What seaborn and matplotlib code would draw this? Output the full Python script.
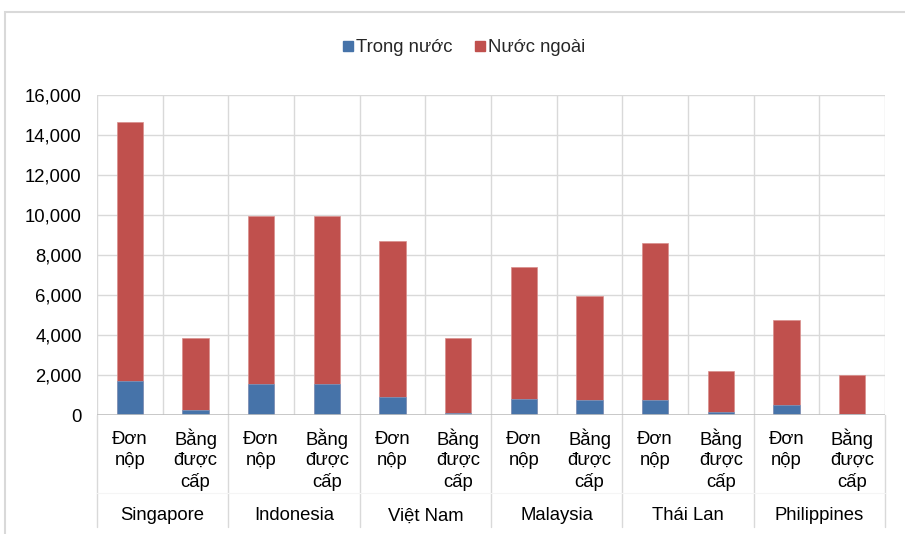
import matplotlib
matplotlib.use("Agg")
import matplotlib.pyplot as plt
from matplotlib.patches import Rectangle
from matplotlib.lines import Line2D
from matplotlib.ticker import FuncFormatter
import seaborn as sns
import pandas as pd

# Patent applications and grants by country, split domestic / foreign
countries = ["Singapore", "Indonesia", "Việt Nam", "Malaysia", "Thái Lan", "Philippines"]
kinds = ["Đơn nộp", "Bằng được cấp"]
kind_lines = {"Đơn nộp": ["Đơn", "nộp"], "Bằng được cấp": ["Bằng", "được", "cấp"]}
trong_nuoc = [1700, 230, 1530, 1530, 880, 120, 790, 740, 740, 170, 480, 40]
nuoc_ngoai = [12950, 3640, 8440, 8440, 7820, 3720, 6590, 5220, 7870, 2020, 4270, 1940]
series_names = ["Trong nước", "Nước ngoài"]
y_ticks = list(range(0, 16001, 2000))

keys = [f"{c}|{k}" for c in countries for k in kinds]
df = pd.DataFrame({
    "key": keys,
    "country": [c for c in countries for _ in kinds],
    "kind": [k for _ in countries for k in kinds],
    "trong_nuoc": trong_nuoc,
    "nuoc_ngoai": nuoc_ngoai,
})
df["total"] = df["trong_nuoc"] + df["nuoc_ngoai"]

sns.set_theme(style="white")
plt.rcParams["font.family"] = ["Liberation Sans", "DejaVu Sans"]

blue = "#4673A9"
red = "#C0504D"
grid_c = "#D9D9D9"
fs = 13.3
W, H = 905, 534

fig = plt.figure(figsize=(W / 100, H / 100), dpi=100)
ax_l, ax_r, ax_t, ax_b = 97, 885, 95, 415
ax = fig.add_axes([ax_l / W, (H - ax_b) / H, (ax_r - ax_l) / W, (ax_b - ax_t) / H])

# stacked bars: total first, domestic part on top of it
sns.barplot(data=df, x="key", y="total", order=keys, color=red, width=0.4,
            saturation=1, edgecolor="#D98E8C", linewidth=0.5, ax=ax, zorder=3)
sns.barplot(data=df, x="key", y="trong_nuoc", order=keys, color=blue, width=0.4,
            saturation=1, edgecolor="#7D9CC4", linewidth=0.5, ax=ax, zorder=4)

n = len(keys)
ax.set_xlim(-0.5, n - 0.5)
ax.set_ylim(0, 16000)
ax.set_yticks(y_ticks)
ax.yaxis.set_major_formatter(FuncFormatter(lambda v, p: f"{int(v):,}"))
ax.tick_params(axis="y", length=0, pad=11, labelsize=fs, colors="black")
ax.set_xticks([])
ax.set_xlabel("")
ax.set_ylabel("")
for s in ax.spines.values():
    s.set_visible(False)

# grid: horizontal at ticks, vertical at category boundaries
for v in y_ticks[1:]:
    ax.axhline(v, color=grid_c, lw=1.0, zorder=1)
for i in range(n + 1):
    ax.axvline(i - 0.5, color=grid_c, lw=1.0, zorder=1)
ax.axhline(0, color="#BFBFBF", lw=1.2, zorder=5)

# two-level category axis
tr = ax.get_xaxis_transform()
axh = ax_b - ax_t
def fy(py):
    return (ax_b - py) / axh

for i, k in enumerate(df["kind"]):
    for j, line in enumerate(kind_lines[k]):
        ax.text(i, fy(439 + 21.5 * j), line, transform=tr, ha="center", va="center",
                fontsize=fs, color="black", clip_on=False)
for g, c in enumerate(countries):
    ax.text(2 * g + 0.5, fy(516), c, transform=tr, ha="center", va="center",
            fontsize=fs, color="black", clip_on=False)
for g in range(len(countries) + 1):
    x = 2 * g - 0.5
    ax.plot([x, x], [0, fy(527)], transform=tr, color=grid_c, lw=1.0, clip_on=False)
ax.plot([-0.5, n - 0.5], [fy(493), fy(493)], transform=tr, color="#F5F5F5",
        lw=0.8, clip_on=False)

# legend
handles = [Line2D([], [], marker="s", ls="", markersize=7.7, color=col)
           for col in (blue, red)]
fig.legend(handles, series_names, loc="center", bbox_to_anchor=(463 / W, 1 - 48 / H),
           ncol=2, frameon=False, fontsize=fs, handletextpad=0.05,
           columnspacing=1.1, handlelength=0.8)

# chart border
fig.add_artist(Rectangle((5 / W, -0.1), 1.2, 1.1 - 12 / H, transform=fig.transFigure,
                         fill=False, edgecolor=grid_c, lw=1.5))

fig.savefig("out.png", dpi=100)
